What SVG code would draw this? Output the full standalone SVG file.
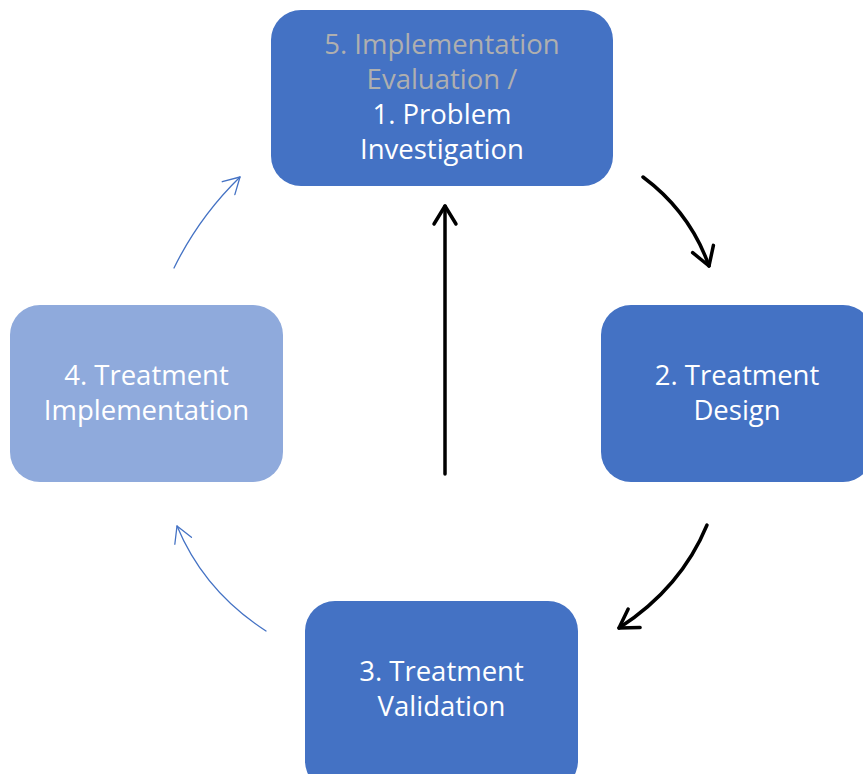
<svg xmlns="http://www.w3.org/2000/svg" width="863" height="774" viewBox="0 0 863 774">
  <defs>
    <style>
      .box { fill: #4472C4; }
      .box.light { fill: #8FAADC; }
      .lbl { font-family: "Open Sans", "Noto Sans", "Liberation Sans", sans-serif; font-size: 27.5px; fill: #FFFFFF; text-anchor: middle; }
      .lbl.dim { fill: #AFAFAF; }
      .bold-link { fill: none; stroke: #000000; stroke-width: 3.5; stroke-linecap: round; }
      .thin-link { fill: none; stroke: #4472C4; stroke-width: 1.3; stroke-linecap: round; }
    </style>
    <marker id="head-black" markerUnits="userSpaceOnUse" markerWidth="40" markerHeight="40" refX="0" refY="0" orient="auto" overflow="visible">
      <path d="M-18,-11 L0,0 L-18,11" fill="none" stroke="#000000" stroke-width="3.5" stroke-linecap="round" stroke-linejoin="round"/>
    </marker>
    <marker id="head-blue" markerUnits="userSpaceOnUse" markerWidth="40" markerHeight="40" refX="0" refY="0" orient="auto" overflow="visible">
      <path d="M-16,-9 L0,0 L-16,9" fill="none" stroke="#4472C4" stroke-width="1.3" stroke-linecap="round" stroke-linejoin="round"/>
    </marker>
  </defs>

  <rect width="863" height="774" fill="#FFFFFF"/>

  <!-- connectors -->
  <g id="connectors">
    <path class="bold-link" d="M643,177 Q690,212 709,266" marker-end="url(#head-black)"/>
    <path class="bold-link" d="M707,525 Q681,588 619,628" marker-end="url(#head-black)"/>
    <path class="thin-link" d="M266,631 Q204,591 177,526" marker-end="url(#head-blue)"/>
    <path class="thin-link" d="M174,268 Q199,217 240,177" marker-end="url(#head-blue)"/>
    <path class="bold-link" d="M445,474 L445,206" marker-end="url(#head-black)"/>
  </g>

  <!-- 5/1: evaluation and problem investigation -->
  <g id="node-problem-investigation">
    <rect class="box" x="271" y="10" width="342" height="176" rx="30" ry="30"/>
    <text class="lbl dim" x="442" y="54">5. Implementation</text>
    <text class="lbl dim" x="442" y="89">Evaluation /</text>
    <text class="lbl" x="442" y="124">1. Problem</text>
    <text class="lbl" x="442" y="159">Investigation</text>
  </g>

  <!-- 2: treatment design -->
  <g id="node-treatment-design">
    <rect class="box" x="601" y="305" width="272" height="177" rx="30" ry="30"/>
    <text class="lbl" x="737" y="385">2. Treatment</text>
    <text class="lbl" x="737" y="420">Design</text>
  </g>

  <!-- 3: treatment validation -->
  <g id="node-treatment-validation">
    <rect class="box" x="305" y="601" width="273" height="190" rx="30" ry="30"/>
    <text class="lbl" x="441.5" y="681">3. Treatment</text>
    <text class="lbl" x="441.5" y="716">Validation</text>
  </g>

  <!-- 4: treatment implementation -->
  <g id="node-treatment-implementation">
    <rect class="box light" x="10" y="305" width="273" height="177" rx="30" ry="30"/>
    <text class="lbl" x="146.5" y="385">4. Treatment</text>
    <text class="lbl" x="146.5" y="420">Implementation</text>
  </g>
</svg>
